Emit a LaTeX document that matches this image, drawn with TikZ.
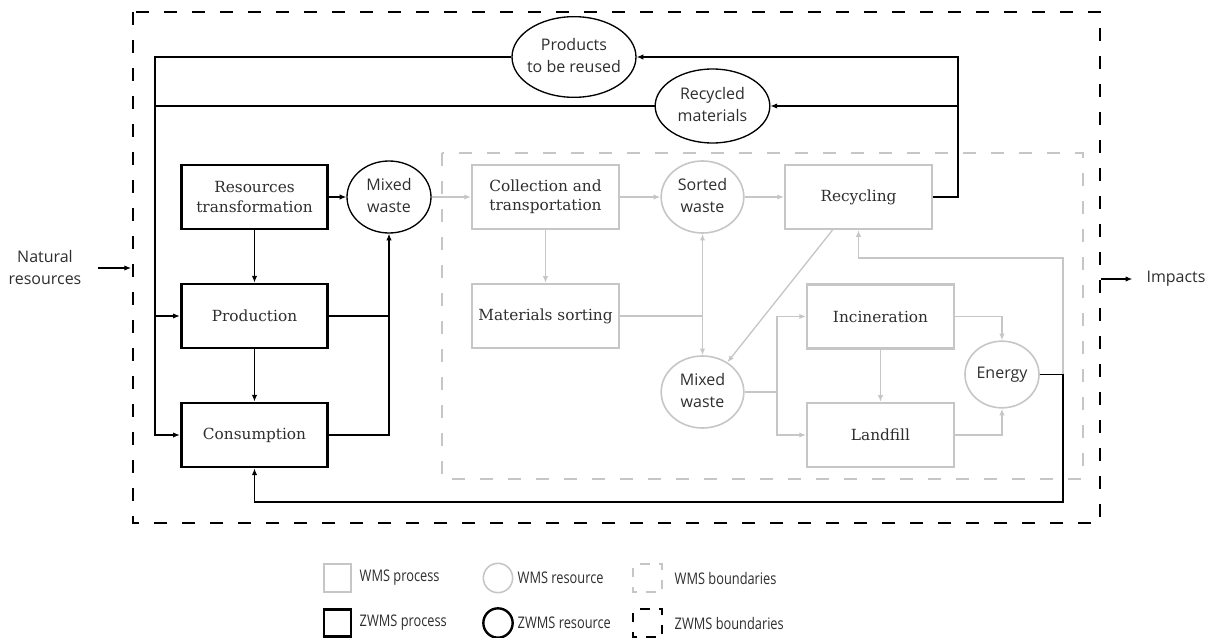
\documentclass[tikz,border=0pt]{standalone}
\usepackage{fontspec}
\setmainfont{DejaVu Serif}
\newfontfamily\osans{Open Sans}
\newfontfamily\legfont[FakeStretch=0.8]{Open Sans}
\usetikzlibrary{shapes.geometric,arrows.meta,calc}
\definecolor{wms}{HTML}{C6C6C6}
\definecolor{ink}{HTML}{2E2E2E}
% two centred lines that do not widen the ellipse around them
\newcommand\twolines[1]{\makebox[0pt][c]{\begin{tabular}{@{}c@{}}#1\end{tabular}}}

\tikzset{
  zproc/.style={draw=black, line width=2.2pt, minimum width=110pt, minimum height=48pt,
    inner sep=0pt, align=center, text=ink, font=\fontsize{11.5}{14.5}\selectfont},
  wproc/.style={zproc, draw=wms, line width=1.7pt},
  zres/.style={ellipse, draw=black, line width=1pt, inner sep=0pt, text=ink,
    font=\osans\fontsize{12}{16.5}\selectfont},
  wres/.style={zres, draw=wms, line width=1.2pt},
  zflow/.style={draw=black, line width=0.8pt},
  wflow/.style={draw=wms, line width=1pt},
  tip/.style={-{Latex[length=5pt,width=4pt]}},
  zbound/.style={draw=black, line width=1.9pt, dash pattern=on 10pt off 11pt},
  wbound/.style={draw=wms, line width=1.6pt, dash pattern=on 9.5pt off 11.5pt},
  plain/.style={text=ink, font=\osans\fontsize{12}{16.5}\selectfont, align=center},
  legtext/.style={anchor=west, text=ink, font=\legfont\fontsize{12}{14}\selectfont},
}

\begin{document}
\begin{tikzpicture}[x=0.75pt, y=-0.75pt]
\useasboundingbox (0,0) rectangle (1215,638);

% system boundaries
\draw[zbound] (133,12) rectangle (1100,523);
\draw[wbound] (442,153) rectangle (1083,479);

% ZWMS processes and resources
\node[zproc] (rt)   at (254.5,197) {Resources\\transformation};
\node[zproc] (prod) at (254.5,316) {Production};
\node[zproc] (cons) at (254.5,435) {Consumption};
\node[zres, minimum width=63pt, minimum height=54pt] (mw1) at (389,197) {\twolines{Mixed\\waste}};
\node[zres, minimum width=93pt, minimum height=60.5pt] (prd) at (574,57) {\twolines{Products\\to be reused}};
\node[zres, minimum width=86pt, minimum height=55.5pt] (rm) at (712.5,106) {\twolines{Recycled\\materials}};

% WMS processes and resources
\node[wproc] (coll) at (545.5,197) {Collection and\\transportation};
\node[wproc] (sort) at (545.5,316) {Materials sorting};
\node[wproc] (rec)  at (858.5,197) {Recycling};
\node[wproc] (inc)  at (880.5,316.5) {Incineration};
\node[wproc] (land) at (880.5,435) {Landfill};
\node[wres, minimum width=62pt, minimum height=54pt] (sw)  at (702.5,197) {\twolines{Sorted\\waste}};
\node[wres, minimum width=62pt, minimum height=54pt] (mw2) at (702.5,392) {\twolines{Mixed\\waste}};
\node[wres, minimum width=55.5pt, minimum height=50pt] (en) at (1002,374.5) {\twolines{Energy}};

% inputs and outputs of the system
\node[plain, inner xsep=12pt] (nat) at (45,268) {Natural\\resources};
\node[plain, inner xsep=10.5pt] (imp) at (1176,279) {Impacts};
\coordinate (nin) at (131,268);
\coordinate (iout) at (1101,279);
\draw[zflow,tip] (nat.east) -- (nin);
\draw[zflow,tip] (iout) -- (imp.west);

% WMS flows
\draw[wflow,tip] (mw1) -- (coll);
\draw[wflow,tip] (coll) -- (sw);
\draw[wflow,tip] (sw) -- (rec);
\draw[wflow,tip] (coll) -- (sort);
\draw[wflow,{Latex[length=5pt,width=4pt]}-{Latex[length=5pt,width=4pt]}] (sw) -- (mw2);
\draw[wflow] (sort.east) -- (sort.east -| sw.south);
\draw[wflow,tip] ($(rec.south west)!0.325!(rec.south east)$) -- (mw2.50);
\coordinate (mj) at (777,392);
\draw[wflow] (mw2.east) -- (mj);
\draw[wflow,tip] (mj) |- (inc.west);
\draw[wflow,tip] (mj) |- (land.west);
\draw[wflow,tip] (inc) -- (land);
\draw[wflow,tip] (inc.east) -| (en.north);
\draw[wflow,tip] (land.east) -| (en.south);
\coordinate (ej) at (1063,374.5);
\coordinate (eu) at (1063,258);
\coordinate (eb) at (1063,502);
\draw[wflow,tip] (ej) -- (eu) -| (rec.south);

% ZWMS flows
\draw[zflow,tip] (rt) -- (mw1);
\draw[zflow,tip] (rt) -- (prod);
\draw[zflow,tip] (prod) -- (cons);
\draw[zflow,tip] (cons.east) -| (mw1.south);
\draw[zflow] (prod.east) -- (prod.east -| mw1.south);
\draw[zflow,tip] (en.east) -- (ej) -- (eb) -| (cons.south);
\coordinate (rtop) at (958,57);
\coordinate (ltop) at (155,57);
\draw[zflow,tip] (rec.east) -| (rtop) -- (prd.east);
\draw[zflow,tip] (rtop |- rm.east) -- (rm.east);
\draw[zflow,tip] (prd.west) -- (ltop) |- (cons.west);
\draw[zflow] (rm.west) -- (rm.west -| ltop);
\draw[zflow,tip] (ltop |- prod.west) -- (prod.west);

% legend
\node[draw=wms, line width=1.4pt, minimum size=20.5pt, inner sep=0pt] (lg1) at (337.5,578) {};
\node[legtext] (lt1) at (355,578) {WMS process};
\node[draw=wms, line width=1.2pt, circle, minimum size=22pt, inner sep=0pt] (lg2) at (498,578) {};
\node[legtext] (lt2) at (513,578) {WMS resource};
\draw[draw=wms, line width=1.2pt, dash pattern=on 7pt off 7pt, dash phase=-3pt] (633,564) rectangle (662,592);
\node[legtext] (lt3) at (670,578) {WMS boundaries};

\node[draw=black, line width=1.8pt, minimum size=20.5pt, inner sep=0pt] (lg4) at (337.5,623) {};
\node[legtext] (lt4) at (355,623) {ZWMS process};
\node[draw=black, line width=1.8pt, circle, minimum size=22pt, inner sep=0pt] (lg5) at (498,623) {};
\node[legtext] (lt5) at (513,623) {ZWMS resource};
\draw[draw=black, line width=1.6pt, dash pattern=on 7pt off 7pt, dash phase=-3pt] (633,609) rectangle (662,637);
\node[legtext] (lt6) at (670,623) {ZWMS boundaries};
\end{tikzpicture}
\end{document}
